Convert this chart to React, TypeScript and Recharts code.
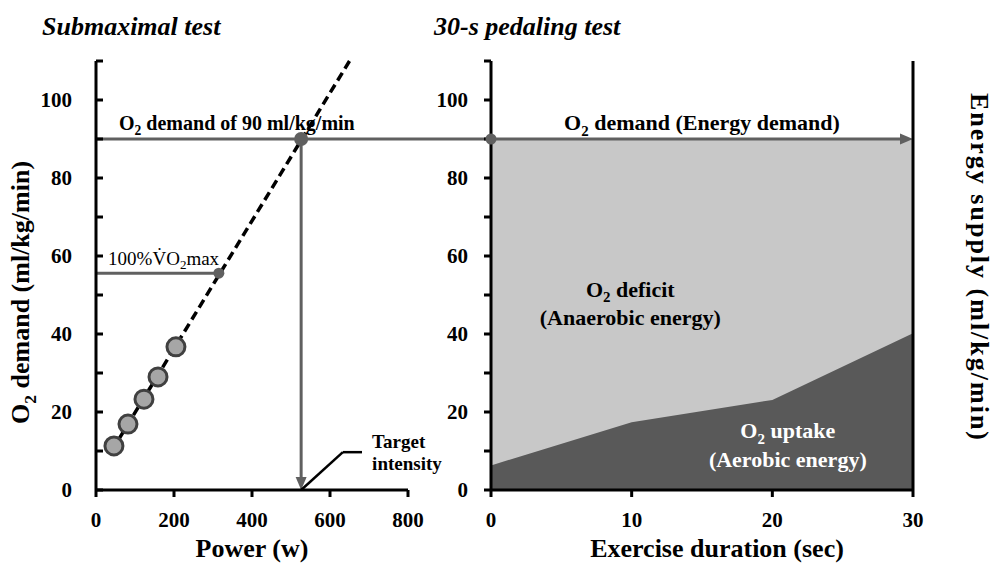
import React from 'react';
import { ComposedChart, Scatter, XAxis, YAxis, ReferenceLine, ReferenceDot, Area } from 'recharts';

const FONT = '"Liberation Serif", "Times New Roman", Times, serif';
const GRAY = '#606060';

// ---- Submaximal test (left panel) ----
const submaxPower = [46, 82, 123, 159, 205];
const submaxO2 = [11.3, 16.9, 23.3, 29.0, 36.7];
const fitPower = [40, 650];
const fitO2 = [10, 110];
const vo2maxPower = 315;
const vo2maxO2 = 55.6;
const targetPower = 526;
const demandO2 = 90;
const demandLineEndPower = 1013; // where the demand line reaches the 30-s panel
const leaderPower = [526, 633, 682];
const leaderO2 = [0, 9.7, 9.7];

// ---- 30-s pedaling test (right panel) ----
const durationSec = [0, 10, 20, 30];
const uptakeO2 = [6.3, 17.4, 23.1, 40.2];
const energyDemand = [90, 90, 90, 90];

// ---- ticks ----
const o2Ticks = [0, 10, 20, 30, 40, 50, 60, 70, 80, 90, 100, 110];
const powerTicks = [0, 200, 400, 600, 800];
const durationTicks = [0, 10, 20, 30];

const scatterData = submaxPower.map((p, i) => ({ x: p, y: submaxO2[i] }));
const areaData = durationSec.map((t, i) => ({ t, uptake: uptakeO2[i], demand: energyDemand[i] }));

const tickText = { fontFamily: FONT, fontSize: 21, fontWeight: 700, fill: '#000' } as const;
const showLabel = (v: number) => v % 20 === 0 && v <= 100;
const tickLineStyle = { stroke: '#000', strokeWidth: 3 };

const leftInnerTick = (p: any) => {
  const v = p.payload.value;
  return showLabel(v) ? (
    <text x={p.x - 31} y={p.y + 7} textAnchor="end" {...tickText}>{v}</text>
  ) : (
    <g />
  );
};

const outerTick = (p: any) => {
  const v = p.payload.value;
  return showLabel(v) ? (
    <text x={p.x - 16} y={p.y + 7} textAnchor="end" {...tickText}>{v}</text>
  ) : (
    <g />
  );
};

const rightInnerTick = (p: any) => {
  const v = p.payload.value;
  return showLabel(v) ? (
    <text x={p.x + 30} y={p.y + 7} textAnchor="start" {...tickText}>{v}</text>
  ) : (
    <g />
  );
};

const xTick = (p: any) => {
  const v = p.payload.value;
  return (
    <text x={p.x} y={p.y + 30} textAnchor="middle" {...tickText}>{v}</text>
  );
};

const noTick = () => <g />;

const arrowShape = (p: any) => {
  const { x1, y1, x2, y2 } = p;
  const dx = x2 - x1;
  const dy = y2 - y1;
  const L = Math.hypot(dx, dy) || 1;
  const ux = dx / L;
  const uy = dy / L;
  const hl = 13;
  const hw = 5.5;
  const bx = x2 - ux * hl;
  const by = y2 - uy * hl;
  return (
    <g>
      <line x1={x1} y1={y1} x2={bx + ux * 2} y2={by + uy * 2} stroke={GRAY} strokeWidth={3} />
      <polygon
        points={`${x2},${y2} ${bx - uy * hw},${by + ux * hw} ${bx + uy * hw},${by - ux * hw}`}
        fill={GRAY}
      />
    </g>
  );
};

const O2 = ({ size, rest }: { size: number; rest: string }) => (
  <>
    <tspan>O</tspan>
    <tspan fontSize={size * 0.68} dy={size * 0.25}>2</tspan>
    <tspan dy={-size * 0.25}>{rest}</tspan>
  </>
);

const textMark = (
  lines: React.ReactNode[],
  opts: { size: number; weight?: number; anchor?: 'start' | 'middle' | 'end'; fill?: string; lineGap?: number }
) => (p: any) => (
  <text
    x={p.cx}
    y={p.cy}
    textAnchor={opts.anchor || 'start'}
    fontFamily={FONT}
    fontSize={opts.size}
    fontWeight={opts.weight ?? 700}
    fill={opts.fill || '#000'}
  >
    {lines.map((l, i) => (
      <tspan key={i} x={p.cx} dy={i === 0 ? 0 : opts.lineGap || opts.size * 1.3}>
        {l}
      </tspan>
    ))}
  </text>
);

const axisTitle = { fontFamily: FONT, fontSize: 26, fontWeight: 700, fill: '#000' } as const;
const layer = { position: 'absolute', left: 0, top: 0 } as const;

export default function App() {
  return (
    <div style={{ position: 'absolute', left: 0, top: 0, width: 993, height: 563, background: '#fff', overflow: 'hidden' }}>
      {/* Left panel: Submaximal test */}
      <div style={layer}>
        <ComposedChart width={993} height={563} margin={{ top: 61, right: 585, bottom: 43, left: 36 }}>
          <XAxis
            type="number"
            dataKey="x"
            domain={[0, 800]}
            ticks={powerTicks}
            interval={0}
            height={30}
            tickSize={7}
            tickMargin={0}
            tickLine={tickLineStyle}
            axisLine={{ stroke: '#000', strokeWidth: 3 }}
            tick={xTick}
            label={{
              content: (lp: any) => {
                const vb = lp.viewBox;
                return (
                  <text x={vb.x + vb.width / 2} y={vb.y + 67} textAnchor="middle" {...axisTitle}>
                    Power (w)
                  </text>
                );
              },
            }}
          />
          <YAxis
            type="number"
            dataKey="y"
            domain={[0, 110]}
            ticks={o2Ticks}
            interval={0}
            width={60}
            tickSize={-7}
            tickMargin={0}
            tickLine={tickLineStyle}
            axisLine={{ stroke: '#000', strokeWidth: 3 }}
            tick={leftInnerTick}
            label={{
              content: (lp: any) => {
                const vb = lp.viewBox;
                const cx = vb.x + vb.width - 67;
                const cy = vb.y + vb.height / 2 + 17;
                return (
                  <text x={cx} y={cy} textAnchor="middle" transform={`rotate(-90, ${cx}, ${cy})`} {...axisTitle}>
                    <O2 size={26} rest=" demand (ml/kg/min)" />
                  </text>
                );
              },
            }}
          />
          <ReferenceLine
            segment={[{ x: 0, y: demandO2 }, { x: demandLineEndPower, y: demandO2 }]}
            stroke={GRAY}
            strokeWidth={3}
            ifOverflow="visible"
          />
          <ReferenceLine
            segment={[{ x: 0, y: vo2maxO2 }, { x: vo2maxPower, y: vo2maxO2 }]}
            stroke={GRAY}
            strokeWidth={3}
            ifOverflow="visible"
          />
          <ReferenceLine
            segment={[{ x: targetPower, y: demandO2 }, { x: targetPower, y: 0 }]}
            shape={arrowShape}
            ifOverflow="visible"
          />
          <ReferenceLine
            segment={[{ x: leaderPower[0], y: leaderO2[0] }, { x: leaderPower[1], y: leaderO2[1] }]}
            stroke="#000"
            strokeWidth={2.5}
            ifOverflow="visible"
          />
          <ReferenceLine
            segment={[{ x: leaderPower[1], y: leaderO2[1] }, { x: leaderPower[2], y: leaderO2[2] }]}
            stroke="#000"
            strokeWidth={2.5}
            ifOverflow="visible"
          />
          <Scatter
            data={scatterData}
            isAnimationActive={false}
            shape={(p: any) => (
              <circle cx={p.cx} cy={p.cy} r={9} fill="#a6a6a6" stroke="#404040" strokeWidth={3} />
            )}
          />
          <ReferenceLine
            segment={[{ x: fitPower[0], y: fitO2[0] }, { x: fitPower[1], y: fitO2[1] }]}
            stroke="#000"
            strokeWidth={3.5}
            strokeDasharray="9 5"
            ifOverflow="visible"
          />
          <ReferenceDot x={vo2maxPower} y={vo2maxO2} r={5.5} fill={GRAY} stroke="none" ifOverflow="visible" />
          <ReferenceDot x={targetPower} y={demandO2} r={7} fill={GRAY} stroke="none" ifOverflow="visible" />
          <ReferenceDot
            x={59}
            y={92.3}
            ifOverflow="visible"
            shape={textMark([<O2 key="a" size={20} rest=" demand of 90 ml/kg/min" />], { size: 20 })}
          />
          <ReferenceDot
            x={31}
            y={57.7}
            ifOverflow="visible"
            shape={textMark([<>100%V{'\u0307'}O<tspan fontSize={13} dy={4}>2</tspan><tspan dy={-4}>max</tspan></>], { size: 19, weight: 400 })}
          />
          <ReferenceDot
            x={708}
            y={10.8}
            ifOverflow="visible"
            shape={textMark(['Target', 'intensity'], { size: 19, lineGap: 22 })}
          />
        </ComposedChart>
      </div>

      {/* Right panel: 30-s pedaling test */}
      <div style={layer}>
        <ComposedChart width={993} height={563} data={areaData} margin={{ top: 61, right: 20, bottom: 43, left: 431 }}>
          <XAxis
            type="number"
            dataKey="t"
            domain={[0, 30]}
            ticks={durationTicks}
            interval={0}
            height={30}
            tickSize={7}
            tickMargin={0}
            tickLine={tickLineStyle}
            axisLine={{ stroke: '#000', strokeWidth: 3 }}
            tick={xTick}
            label={{
              content: (lp: any) => {
                const vb = lp.viewBox;
                return (
                  <text x={vb.x + vb.width / 2 + 15} y={vb.y + 67} textAnchor="middle" {...axisTitle}>
                    Exercise duration (sec)
                  </text>
                );
              },
            }}
          />
          <YAxis
            yAxisId="l"
            orientation="left"
            type="number"
            domain={[0, 110]}
            ticks={o2Ticks}
            interval={0}
            width={60}
            tickSize={7}
            tickMargin={0}
            tickLine={tickLineStyle}
            axisLine={{ stroke: '#000', strokeWidth: 3 }}
            tick={outerTick}
          />
          <YAxis
            yAxisId="r"
            orientation="right"
            type="number"
            domain={[0, 110]}
            ticks={o2Ticks}
            interval={0}
            width={60}
            tickSize={-7}
            tickMargin={0}
            tickLine={tickLineStyle}
            axisLine={{ stroke: '#000', strokeWidth: 3 }}
            tick={rightInnerTick}
            label={{
              content: (lp: any) => {
                const vb = lp.viewBox;
                const cx = vb.x + 58;
                const cy = vb.y + vb.height / 2 - 8;
                return (
                  <text
                    x={cx}
                    y={cy}
                    textAnchor="middle"
                    transform={`rotate(90, ${cx}, ${cy})`}
                    letterSpacing={2}
                    {...axisTitle}
                  >
                    Energy supply (ml/kg/min)
                  </text>
                );
              },
            }}
          />
          <Area
            yAxisId="l"
            type="linear"
            dataKey="demand"
            fill="#c8c8c8"
            fillOpacity={1}
            stroke="none"
            isAnimationActive={false}
            dot={false}
            activeDot={false}
          />
          <Area
            yAxisId="l"
            type="linear"
            dataKey="uptake"
            fill="#595959"
            fillOpacity={1}
            stroke="none"
            isAnimationActive={false}
            dot={false}
            activeDot={false}
          />
          <ReferenceLine
            yAxisId="l"
            segment={[{ x: 0, y: demandO2 }, { x: 30, y: demandO2 }]}
            shape={arrowShape}
            ifOverflow="visible"
          />
          <ReferenceDot yAxisId="l" x={0} y={demandO2} r={5.5} fill={GRAY} stroke="none" ifOverflow="visible" />
          <ReferenceDot
            yAxisId="l"
            x={15}
            y={92.3}
            ifOverflow="visible"
            shape={textMark([<O2 key="a" size={22} rest=" demand (Energy demand)" />], { size: 22, anchor: 'middle' })}
          />
          <ReferenceDot
            yAxisId="l"
            x={9.9}
            y={49.5}
            ifOverflow="visible"
            shape={textMark([<O2 key="a" size={22} rest=" deficit" />, '(Anaerobic energy)'], {
              size: 22,
              anchor: 'middle',
              lineGap: 28,
            })}
          />
          <ReferenceDot
            yAxisId="l"
            x={21.1}
            y={13.3}
            ifOverflow="visible"
            shape={textMark([<O2 key="a" size={22} rest=" uptake" />, '(Aerobic energy)'], {
              size: 22,
              anchor: 'middle',
              fill: '#fff',
              lineGap: 29,
            })}
          />
        </ComposedChart>
      </div>

      {/* Inner half of the crossing ticks on the 30-s panel's left axis */}
      <div style={layer}>
        <ComposedChart width={993} height={563} data={areaData} margin={{ top: 61, right: 80, bottom: 73, left: 431 }}>
          <XAxis type="number" dataKey="t" domain={[0, 30]} hide />
          <YAxis
            type="number"
            domain={[0, 110]}
            ticks={o2Ticks}
            interval={0}
            width={60}
            tickSize={-7}
            tickMargin={0}
            tickLine={tickLineStyle}
            axisLine={false}
            tick={noTick}
          />
        </ComposedChart>
      </div>

      {/* Panel titles */}
      <svg width={993} height={563} style={{ position: 'absolute', left: 0, top: 0, pointerEvents: 'none' }}>
        <text x={42} y={35} fontFamily={FONT} fontSize={26} fontWeight={700} fontStyle="italic" fill="#000">
          Submaximal test
        </text>
        <text x={434} y={35} fontFamily={FONT} fontSize={26} fontWeight={700} fontStyle="italic" fill="#000">
          30-s pedaling test
        </text>
      </svg>
    </div>
  );
}
